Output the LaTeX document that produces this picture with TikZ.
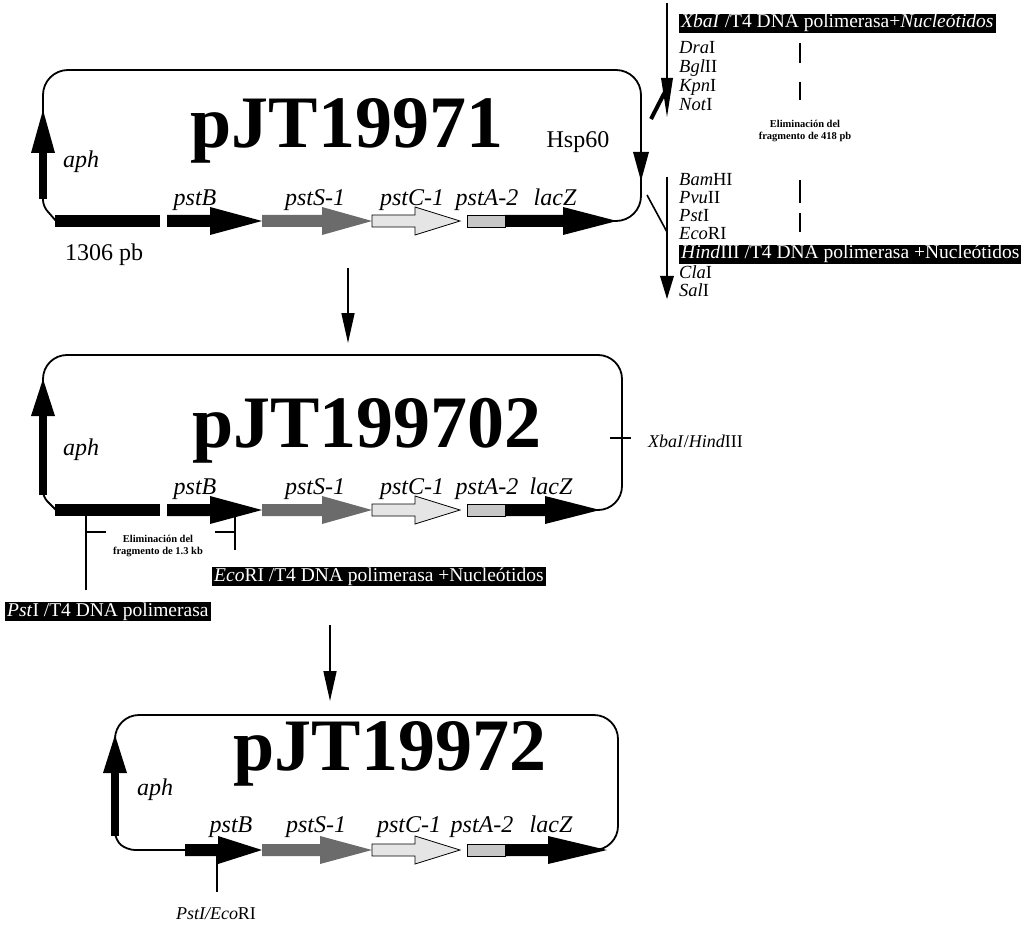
\documentclass[tikz,border=0pt]{standalone}
\usepackage{fontspec}
\setmainfont{Liberation Serif}
\usetikzlibrary{arrows.meta}
\newcommand{\genearr}[5]{%
  \path[#5] (#1,#4-6) -- (#2,#4-6) -- (#2,#4-14) -- (#3,#4) -- (#2,#4+14) -- (#2,#4+6) -- (#1,#4+6) -- cycle;}
\newcommand{\genebar}[4]{\path[#4] (#1,#3-6) rectangle (#2,#3+6);}
\begin{document}
\begin{tikzpicture}[x=1pt,y=-1pt,
  plasmid/.style={line width=1.8pt, line join=round},
  thin/.style={line width=1.6pt},
  title/.style={font=\fontsize{74}{74}\selectfont\bfseries, anchor=base, inner sep=0},
  gene/.style={font=\fontsize{24}{24}\selectfont\itshape, anchor=base, inner sep=0},
  lbl/.style={font=\fontsize{24}{24}\selectfont, anchor=base, inner sep=0},
  site/.style={font=\fontsize{18.5}{18.5}\selectfont, anchor=base west, inner sep=0},
  blk/.style={font=\fontsize{19.5}{19.5}\selectfont, fill=black, text=white, inner xsep=2pt, inner ysep=1pt, text height=13pt, text depth=4pt, anchor=base west},
  small/.style={font=\fontsize{10.5}{12}\selectfont\bfseries, align=center, inner sep=0},
  flow/.style={line width=1.6pt, -{Triangle[length=30pt,width=13pt]}},
  gblack/.style={fill=black},
  gS/.style={fill=black!58},
  gC/.style={fill=black!10, draw=black, line width=0.8pt},
  gA/.style={fill=black!22, draw=black, line width=0.6pt},
]
\useasboundingbox (0,0) rectangle (1033,925);
\fill[white] (0,0) rectangle (1033,925);

% ================= pJT19971 =================
\draw[plasmid, rounded corners=25pt] (43,200) -- (43,70) -- (641,70) -- (641,221) -- (600,221);
\draw[plasmid, rounded corners=6pt] (43,196) -- (43,206) -- (56,221);
\draw[line width=8pt] (43,199) -- (43,150);
\fill (31,153) -- (55,153) -- (43,110) -- cycle;
\fill (633,152) -- (649,152) -- (641,181) -- cycle;
\genebar{55}{160}{221}{gblack}
\genearr{167}{210}{262}{221}{gblack}
\genearr{262}{322}{372}{221}{gS}
\genearr{372}{415}{460}{221}{gC}
\genebar{467}{505}{221}{gA}
\genearr{505}{563}{617}{221}{gblack}
\node[title] (t1) at (347,148) {pJT19971};
\node[gene] (aph1) at (81,168) {aph};
\node[gene] (b1) at (195,206) {pstB};
\node[gene] (s1) at (315,206) {pstS-1};
\node[gene] (c1) at (412,206) {pstC-1};
\node[gene] (a1) at (487,206) {pstA-2};
\node[gene] (z1) at (555,206) {lacZ};
\node[lbl] (hsp) at (578,148) {Hsp60};
\node[lbl] (pb) at (104,261) {1306 pb};

% sites on the right
\coordinate (v1a) at (667,3);
\coordinate (v1b) at (667,85);
\draw[thin] (v1a) -- (v1b);
\fill (661,78) -- (673,78) -- (667,117) -- cycle;
\draw[line width=4pt] (651,119) -- (669,84);
\coordinate (d2a) at (647,195);
\coordinate (d2b) at (667,232);
\draw[thin] (d2a) -- (d2b);
\draw[thin] (667,177) -- (667,280);
\fill (660,276) -- (674,276) -- (667,299) -- cycle;

\node[blk] (xba) at (679,28) {\textit{XbaI} /T4 DNA polimerasa+\textit{Nucleótidos}};
\node[site] (dra) at (679,54) {\textit{Dra}I};
\node[site] (bgl) at (679,73) {\textit{Bgl}II};
\node[site] (kpn) at (679,92) {\textit{Kpn}I};
\node[site] (not) at (679,111) {\textit{Not}I};
\node[site] (bam) at (679,186) {\textit{Bam}HI};
\node[site] (pvu) at (679,204) {\textit{Pvu}II};
\node[site] (pst) at (679,222) {\textit{Pst}I};
\node[site] (eco) at (679,240) {\textit{Eco}RI};
\node[blk] (hind) at (679,259) {\textit{Hind}III /T4 DNA polimerasa +Nucleótidos};
\node[site] (cla) at (679,279) {\textit{Cla}I};
\node[site] (sal) at (679,297) {\textit{Sal}I};

\foreach \ya/\yb in {43/63, 82/100, 180/203, 213/232}
  \draw[line width=2pt] (800,\ya) -- (800,\yb);
\node[small] (el418) at (805,131) {Eliminación del\\fragmento de 418 pb};

% flow arrow 1
\coordinate (f1s) at (348,268);
\coordinate (f1e) at (348,343);
\draw[flow] (f1s) -- (f1e);

% ================= pJT199702 =================
\draw[plasmid, rounded corners=24pt] (43,494) -- (43,355) -- (622,355) -- (622,510) -- (590,510);
\draw[plasmid, rounded corners=6pt] (43,490) -- (43,497) -- (56,510);
\draw[line width=8pt] (43,495) -- (43,412);
\fill (31,416) -- (55,416) -- (43,379) -- cycle;
\genebar{55}{160}{510}{gblack}
\genearr{167}{210}{262}{510}{gblack}
\genearr{262}{322}{372}{510}{gS}
\genearr{372}{415}{460}{510}{gC}
\genebar{467}{505}{510}{gA}
\genearr{505}{545}{600}{510}{gblack}
\node[title] (t2) at (367,447) {pJT199702};
\node[gene] (aph2) at (81,455) {aph};
\node[gene] (b2) at (195,494) {pstB};
\node[gene] (s2) at (315,494) {pstS-1};
\node[gene] (c2) at (412,494) {pstC-1};
\node[gene] (a2) at (487,494) {pstA-2};
\node[gene] (z2) at (551,494) {lacZ};

\coordinate (tk1) at (610,438);
\coordinate (tk2) at (631,438);
\draw[thin] (tk1) -- (tk2);
\node[font=\fontsize{18}{18}\selectfont, anchor=west, inner sep=0] (xh) at (648,441) {\textit{XbaI}/\textit{Hind}III};

\coordinate (p1) at (86,510);
\coordinate (p2) at (86,590);
\draw[thin] (p1) -- (p2);
\coordinate (e1) at (235,514);
\coordinate (e2) at (235,550);
\draw[thin] (e1) -- (e2);
\draw[thin] (86,532) -- (106,532);
\draw[thin] (215,532) -- (235,532);
\node[small] (el13) at (158,546) {Eliminación del\\fragmento de 1.3 kb};
\node[blk] (ecob) at (212,581) {\textit{Eco}RI /T4 DNA polimerasa +Nucleótidos};
\node[blk] (pstb) at (5,616) {\textit{Pst}I /T4 DNA polimerasa};

% flow arrow 2
\coordinate (f2s) at (330,625);
\coordinate (f2e) at (330,701);
\draw[flow] (f2s) -- (f2e);

% ================= pJT19972 =================
\draw[plasmid, rounded corners=24pt] (115,835) -- (115,715) -- (618,715) -- (618,850) -- (590,850);
\draw[plasmid, rounded corners=8pt] (115,830) -- (115,840) -- (127,850) -- (186,850);
\draw[line width=8pt] (115,836) -- (115,770);
\fill (103,773) -- (127,773) -- (115,735) -- cycle;
\genearr{185}{218}{262}{850}{gblack}
\genearr{262}{320}{372}{850}{gS}
\genearr{372}{415}{460}{850}{gC}
\genebar{467}{505}{850}{gA}
\genearr{505}{548}{607}{850}{gblack}
\node[title] (t3) at (390,770) {pJT19972};
\node[gene] (aph3) at (155,795) {aph};
\node[gene] (b3) at (231,832) {pstB};
\node[gene] (s3) at (316,832) {pstS-1};
\node[gene] (c3) at (409,832) {pstC-1};
\node[gene] (a3) at (482,832) {pstA-2};
\node[gene] (z3) at (551,832) {lacZ};
\coordinate (q1) at (217,850);
\coordinate (q2) at (217,892);
\draw[thin] (q1) -- (q2);
\node[font=\fontsize{18}{18}\selectfont\itshape, anchor=base, inner sep=0] (pe) at (216,919) {PstI/Eco\textup{RI}};
\end{tikzpicture}
\end{document}
